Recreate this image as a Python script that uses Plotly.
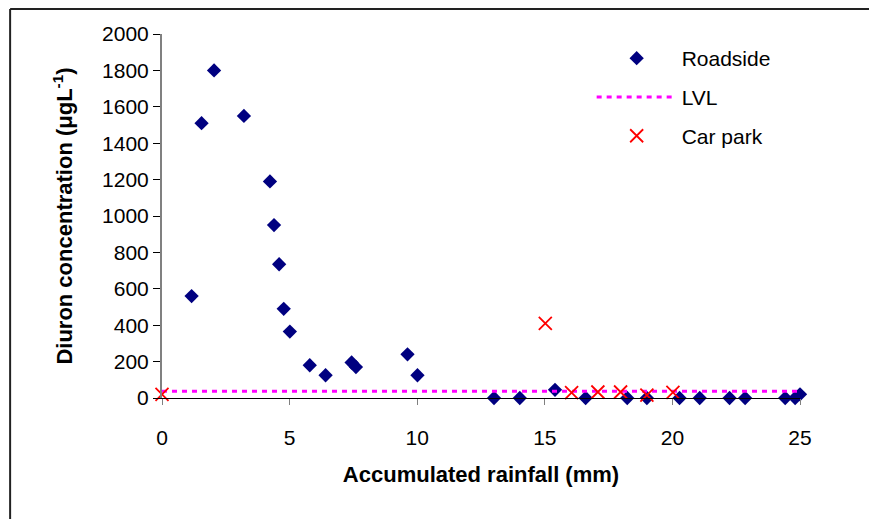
import plotly.graph_objects as go

# Roadside data
road_x = [1.16, 1.55, 2.04, 3.21, 4.23, 4.39, 4.59, 4.77, 5.01, 5.79, 6.41, 7.43, 7.60,
          9.62, 10.01, 13.01, 14.02, 15.40, 16.60, 18.23, 19.00, 20.28, 21.07, 22.24,
          22.85, 24.42, 24.81, 25.0]
road_y = [560, 1510, 1800, 1550, 1190, 950, 735, 490, 365, 180, 125, 195, 170,
          240, 125, 0, 0, 45, 0, 0, 0, 0, 0, 0,
          0, 0, 0, 20]

# Car park data
car_x = [0.0, 15.02, 16.05, 17.08, 17.97, 19.00, 20.02]
car_y = [20, 410, 30, 33, 33, 16, 31]

# LVL line
lvl_x = [0, 25]
lvl_y = [37, 37]

x_ticks = [0, 5, 10, 15, 20, 25]
y_ticks = [0, 200, 400, 600, 800, 1000, 1200, 1400, 1600, 1800, 2000]

FONT = "Liberation Sans, Arial, sans-serif"
FS = 21
TFS = 22

fig = go.Figure()
fig.add_trace(go.Scatter(
    x=road_x, y=road_y, mode="markers", name="Roadside", legendgroup="a",
    marker=dict(symbol="diamond", size=11, color="#000080"),
    cliponaxis=False))
fig.add_trace(go.Scatter(
    x=lvl_x, y=lvl_y, mode="lines", name="LVL", legendgroup="b",
    line=dict(color="#FF00FF", width=3, dash="5px,5px")))
fig.add_trace(go.Scatter(
    x=car_x, y=car_y, mode="markers", name="Car park", legendgroup="c",
    marker=dict(symbol="x-thin-open", size=13, color="#FF0000",
                line=dict(width=1.8, color="#FF0000")),
    cliponaxis=False))

L, T = 162, 34
W, H = 869, 519
pw = 800.5 - L
ph = 398 - T
R = W - 800.5
B = H - 398

fig.update_layout(
    width=W, height=H,
    margin=dict(l=L, r=R, t=T, b=B),
    paper_bgcolor="white", plot_bgcolor="white",
    font=dict(family=FONT, size=FS, color="black"),
    showlegend=True,
    legend=dict(
        x=(592 - L) / pw, y=(398 - 38) / ph, xanchor="left", yanchor="top",
        bgcolor="rgba(0,0,0,0)", itemwidth=80, tracegroupgap=8.5,
        traceorder="grouped", font=dict(size=FS, family=FONT),
        itemsizing="trace"),
    xaxis=dict(
        range=[0, 25], tickvals=x_ticks, ticks="outside", ticklen=6,
        tickcolor="#808080", showline=True, linecolor="black", linewidth=1,
        showgrid=False, zeroline=False, ticklabelstandoff=15,
        tickfont=dict(size=FS),
        title=dict(text="<b>Accumulated rainfall (mm)</b>", standoff=18,
                   font=dict(size=TFS, family=FONT))),
    yaxis=dict(
        range=[0, 2000], tickvals=y_ticks, ticks="outside", ticklen=7,
        tickcolor="black", showline=True, linecolor="#808080", linewidth=2,
        showgrid=False, zeroline=False, tickfont=dict(size=FS),
        title=dict(text="<b>Diuron concentration (μgL<sup>-1</sup>)</b>", standoff=23,
                   font=dict(size=TFS, family=FONT))),
    shapes=[
        dict(type="line", xref="paper", yref="paper",
             x0=(10 - L) / pw, x1=(W + 5 - L) / pw,
             y0=(398 - 9) / ph, y1=(398 - 9) / ph,
             line=dict(color="#222222", width=2)),
        dict(type="line", xref="paper", yref="paper",
             x0=(10 - L) / pw, x1=(10 - L) / pw,
             y0=(398 - 9) / ph, y1=(398 - H - 5) / ph,
             line=dict(color="#222222", width=2)),
    ],
)

fig.write_html("out.html")
